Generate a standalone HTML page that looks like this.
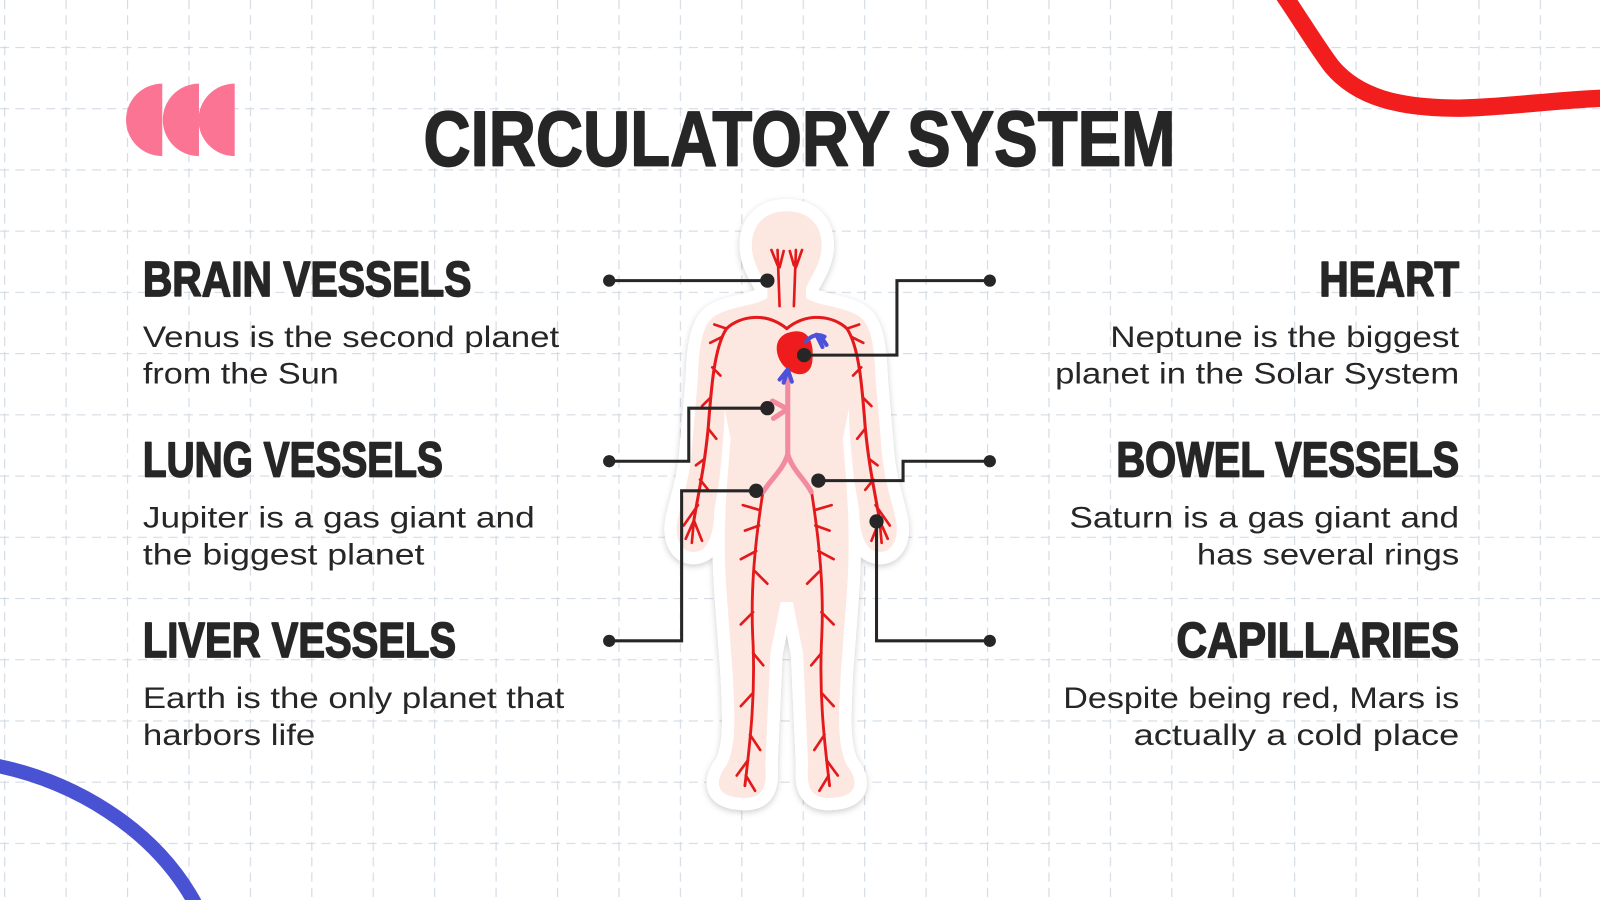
<!DOCTYPE html>
<html><head><meta charset="utf-8"><style>
html,body{margin:0;padding:0;background:#fff}
svg{display:block}
.h{font-family:"Liberation Sans",sans-serif;font-weight:900;fill:#262626;stroke:#262626;stroke-width:1.6;stroke-linejoin:round}
.b{font-family:"Liberation Sans",sans-serif;fill:#262626;font-size:29px}
</style></head><body>
<svg width="1600" height="900" viewBox="0 0 1568 882" xmlns="http://www.w3.org/2000/svg">
<defs>
<pattern id="gv" x="4" y="0" width="60.2" height="882" patternUnits="userSpaceOnUse">
<line x1="0.5" y1="0" x2="0.5" y2="882" stroke="#d3dbe4" stroke-width="1.3" stroke-dasharray="9 6"/>
</pattern>
<pattern id="gh" x="0" y="46" width="1568" height="60" patternUnits="userSpaceOnUse">
<line x1="0" y1="0.5" x2="1568" y2="0.5" stroke="#d3dbe4" stroke-width="1.3" stroke-dasharray="9 6"/>
</pattern>
<filter id="sh" x="-20%" y="-20%" width="140%" height="140%"><feDropShadow dx="0" dy="2" stdDeviation="3" flood-color="#000" flood-opacity="0.2"/></filter>
</defs>
<rect width="1568" height="882" fill="#fff"/>
<rect width="1568" height="882" fill="url(#gv)"/>
<rect width="1568" height="882" fill="url(#gh)"/>

<g fill="#fb7494">
<path d="M159,82 A35.5,35.5 0 0 0 159,153 Z"/>
<path d="M195,82 A35.5,35.5 0 0 0 195,153 Z"/>
<path d="M230,82 A35.5,35.5 0 0 0 230,153 Z"/>
</g>
<path d="M1258,-5 C1275,20 1290,45 1305,65 C1330,95 1370,106 1430,106 C1480,105 1520,98 1575,96" fill="none" stroke="#f21d1d" stroke-width="17"/>
<path d="M-5,750 C70,765 150,810 191,885" fill="none" stroke="#4a52d4" stroke-width="14"/>

<text class="h" x="415" y="162" font-size="76" textLength="737" lengthAdjust="spacingAndGlyphs">CIRCULATORY SYSTEM</text>

<text class="h" x="140" y="290" font-size="48" textLength="322" lengthAdjust="spacingAndGlyphs">BRAIN VESSELS</text>
<text class="h" x="140" y="467" font-size="48" textLength="294" lengthAdjust="spacingAndGlyphs">LUNG VESSELS</text>
<text class="h" x="140" y="644" font-size="48" textLength="307" lengthAdjust="spacingAndGlyphs">LIVER VESSELS</text>
<text class="h" x="1430" y="290" font-size="48" text-anchor="end" textLength="137" lengthAdjust="spacingAndGlyphs">HEART</text>
<text class="h" x="1430" y="467" font-size="48" text-anchor="end" textLength="336" lengthAdjust="spacingAndGlyphs">BOWEL VESSELS</text>
<text class="h" x="1430" y="644" font-size="48" text-anchor="end" textLength="277" lengthAdjust="spacingAndGlyphs">CAPILLARIES</text>

<text class="b" x="140" y="340" textLength="408" lengthAdjust="spacingAndGlyphs">Venus is the second planet</text>
<text class="b" x="140" y="376" textLength="192" lengthAdjust="spacingAndGlyphs">from the Sun</text>
<text class="b" x="140" y="517" textLength="384" lengthAdjust="spacingAndGlyphs">Jupiter is a gas giant and</text>
<text class="b" x="140" y="553" textLength="276" lengthAdjust="spacingAndGlyphs">the biggest planet</text>
<text class="b" x="140" y="694" textLength="413" lengthAdjust="spacingAndGlyphs">Earth is the only planet that</text>
<text class="b" x="140" y="730" textLength="169" lengthAdjust="spacingAndGlyphs">harbors life</text>
<text class="b" x="1430" y="340" text-anchor="end" textLength="342" lengthAdjust="spacingAndGlyphs">Neptune is the biggest</text>
<text class="b" x="1430" y="376" text-anchor="end" textLength="396" lengthAdjust="spacingAndGlyphs">planet in the Solar System</text>
<text class="b" x="1430" y="517" text-anchor="end" textLength="382" lengthAdjust="spacingAndGlyphs">Saturn is a gas giant and</text>
<text class="b" x="1430" y="553" text-anchor="end" textLength="257" lengthAdjust="spacingAndGlyphs">has several rings</text>
<text class="b" x="1430" y="694" text-anchor="end" textLength="388" lengthAdjust="spacingAndGlyphs">Despite being red, Mars is</text>
<text class="b" x="1430" y="730" text-anchor="end" textLength="319" lengthAdjust="spacingAndGlyphs">actually a cold place</text>

<g filter="url(#sh)">
<path id="body" d="M771,207 C748,207 735,222 737,245 C739,262 748,272 752,282 L752,292 C740,300 715,300 700,310 C688,318 685,340 684,370 L678,440 C676,470 668,490 664,510 C660,530 670,545 685,540 C695,537 700,520 700,500 L705,470 C708,440 710,420 710,400 L716,430 C712,480 708,520 712,580 L718,660 C720,700 722,730 712,750 C700,765 700,782 730,782 C748,782 752,770 750,750 L755,640 L765,590 L777,590 L787,640 L792,750 C790,770 794,782 812,782 C842,782 842,765 830,750 C820,730 822,700 824,660 L830,580 C834,520 830,480 826,430 L832,400 C832,420 834,440 837,470 L842,500 C842,520 847,537 857,540 C872,545 882,530 878,510 C874,490 866,470 864,440 L858,370 C857,340 854,318 842,310 C827,300 802,300 790,292 L790,282 C794,272 803,262 805,245 C807,222 794,207 771,207 Z" fill="#fff" stroke="#fff" stroke-width="24" stroke-linejoin="round"/>
</g>
<use href="#body" fill="#fde7e1" stroke="none"/>
<path d="M771,207 C748,207 735,222 737,245 C739,262 748,272 752,282 L752,292 C740,300 715,300 700,310 C688,318 685,340 684,370 L678,440 C676,470 668,490 664,510 C660,530 670,545 685,540 C695,537 700,520 700,500 L705,470 C708,440 710,420 710,400 L716,430 C712,480 708,520 712,580 L718,660 C720,700 722,730 712,750 C700,765 700,782 730,782 C748,782 752,770 750,750 L755,640 L765,590 L777,590 L787,640 L792,750 C790,770 794,782 812,782 C842,782 842,765 830,750 C820,730 822,700 824,660 L830,580 C834,520 830,480 826,430 L832,400 C832,420 834,440 837,470 L842,500 C842,520 847,537 857,540 C872,545 882,530 878,510 C874,490 866,470 864,440 L858,370 C857,340 854,318 842,310 C827,300 802,300 790,292 L790,282 C794,272 803,262 805,245 C807,222 794,207 771,207 Z" fill="#fde7e1"/>

<g fill="none" stroke="#e3191b" stroke-width="2.6" stroke-linecap="round">
<path d="M762,245 L764,300 M756,245 L762,260 M768,246 L764,262"/>
<path d="M780,245 L778,300 M786,245 L780,262 M774,246 L778,260"/>
<path d="M771,322 C750,305 725,310 712,322 C700,340 697,380 694,420 C690,460 685,480 680,510" stroke-width="3"/>
<path d="M771,322 C792,305 817,310 830,322 C842,340 845,380 848,420 C852,460 857,480 862,510" stroke-width="3"/>
<path d="M712,322 L700,318 M708,330 L696,336 M698,360 L706,368 M696,390 L688,398 M694,420 L702,430 M690,450 L682,456 M686,470 L694,480 M680,510 L672,528 M680,510 L678,532 M680,510 L688,530 M684,495 L670,515"/>
<path d="M830,322 L842,318 M834,330 L846,336 M844,360 L836,368 M846,390 L854,398 M848,420 L840,430 M852,450 L860,456 M856,470 L848,480 M862,510 L870,528 M862,510 L864,532 M862,510 L854,530 M858,495 L872,515"/>
<path d="M748,480 C740,530 735,580 738,630 C740,680 736,720 730,770" stroke-width="2.8"/>
<path d="M795,480 C803,530 808,580 805,630 C803,680 807,720 813,770" stroke-width="2.8"/>
<path d="M745,500 L728,495 M744,515 L730,520 M741,540 L726,548 M740,560 L752,572 M738,600 L726,612 M738,640 L748,652 M737,680 L726,692 M735,720 L745,735 M733,745 L722,760 M731,760 L740,775"/>
<path d="M798,500 L815,495 M799,515 L813,520 M802,540 L817,548 M803,560 L791,572 M805,600 L817,612 M805,640 L795,652 M806,680 L817,692 M808,720 L798,735 M810,745 L821,760 M812,760 L803,775"/>
</g>
<g fill="none" stroke="#f28ba0" stroke-width="5" stroke-linecap="round">
<path d="M772,370 L772,445 C768,460 755,470 748,482 M772,445 C776,460 789,470 795,482"/>
<path d="M770,400 L757,393 M770,402 L758,410"/>
</g>
<path d="M777,325 C795,322 798,340 796,355 C794,368 782,370 772,362 C762,355 758,340 764,332 C768,327 772,326 777,325 Z" fill="#ee1c1c"/>
<g fill="none" stroke="#4d50d8" stroke-width="4" stroke-linecap="round">
<path d="M790,335 C795,328 802,327 808,330 M800,328 L806,340 M804,329 L810,338"/>
<path d="M772,362 L768,375 M772,362 L764,372 M772,362 L776,374"/>
</g>

<g fill="none" stroke="#262626" stroke-width="3">
<path d="M597,275 L752,275"/>
<path d="M597,452 L675,452 L675,400 L752,400"/>
<path d="M597,628 L668,628 L668,481 L741,481"/>
<path d="M970,275 L879,275 L879,348 L788,348"/>
<path d="M970,452 L885,452 L885,471 L802,471"/>
<path d="M970,628 L859,628 L859,511"/>
</g>
<g fill="#262626">
<circle cx="597" cy="275" r="6"/><circle cx="752" cy="275" r="7"/>
<circle cx="597" cy="452" r="6"/><circle cx="752" cy="400" r="7"/>
<circle cx="597" cy="628" r="6"/><circle cx="741" cy="481" r="7"/>
<circle cx="970" cy="275" r="6"/><circle cx="788" cy="348" r="7"/>
<circle cx="970" cy="452" r="6"/><circle cx="802" cy="471" r="7"/>
<circle cx="970" cy="628" r="6"/><circle cx="859" cy="511" r="7"/>
</g>
</svg>
</body></html>
